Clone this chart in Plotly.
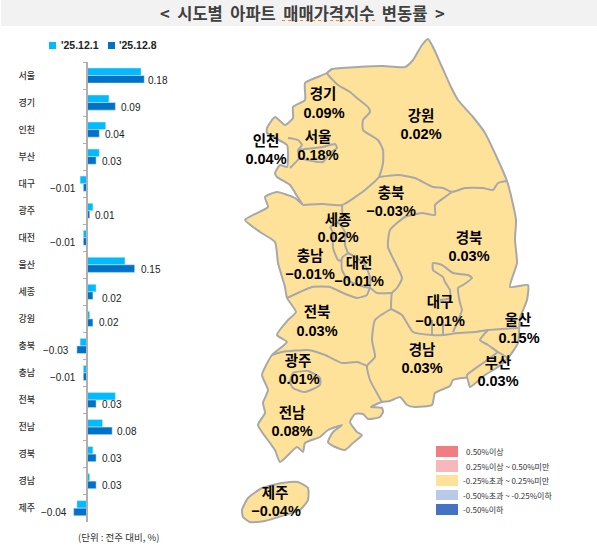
import plotly.graph_objects as go

W, H = 597, 554

# ---------- data ----------
regions = ["서울","경기","인천","부산","대구","광주","대전","울산","세종","강원","충북","충남","전북","전남","경북","경남","제주"]
dec_1 = [0.17,0.07,0.06,0.04,-0.02,0.02,-0.01,0.12,0.03,0.01,-0.02,-0.01,0.09,0.05,0.02,0.01,-0.03]
dec_8 = [0.18,0.09,0.04,0.03,-0.01,0.01,-0.01,0.15,0.02,0.02,-0.03,-0.01,0.03,0.08,0.03,0.03,-0.04]
series_names = ["'25.12.1", "'25.12.8"]
title_text = "&lt;\u00a0 시도별\u00a0 아파트\u00a0 매매가격지수\u00a0 변동률\u00a0 &gt;"
unit_text = "(단위 : 전주 대비, %)"
bin_labels = ["0.50%이상","0.25%이상 ~ 0.50%미만","-0.25%초과 ~ 0.25%미만","-0.50%초과 ~ -0.25%이하","-0.50%이하"]

# ---------- map geometry (map units) ----------
coast = [(305,83),(315,78),(327,73),(332,69),(358,67),(382,66),(405,67),(413,60),(422,45),(428,39),(433,47),(442,67),(450,85),
(458,100),(473,117),(485,133),(498,160),(507,181),(512,200),(516,220),(515,240),(517,263),(510,287),(528,285),(527,300),(520,318),
(518,343),(508,358),(498,367),(485,375),(470,387),(467,378),(453,380),(450,386),(435,393),(432,405),(415,407),(407,405),(400,397),
(390,401),(382,402),(371,407),(382,408),(383,412),(380,417),(368,419),(363,414),(355,414),(350,422),(357,432),(362,435),(353,443),
(345,450),(333,446),(328,442),(333,432),(342,425),(328,430),(320,437),(305,443),(303,452),(297,447),(280,462),(275,450),(270,443),
(258,425),(265,413),(263,403),(268,390),(262,375),(272,355),(287,342),(277,335),(288,320),(296,312),(287,298),(285,287),(278,263),
(275,242),(260,232),(245,220),(253,215),(268,207),(265,197),(277,192),(295,198),(303,205),(297,196),(290,185),(277,177),(275,173),
(280,165),(287,167),(288,157),(287,145),(275,138),(267,133),(267,128),(275,117),(285,125),(293,118),(293,107),(305,100),(305,83)]
jeju = [(242,510),(248,498),(262,488),(282,483),(298,482),(308,488),(308,500),(300,510),(285,515),(265,521),(250,522),(243,517),(242,510)]
borders = [
 [(332,69),(327,73),(338,85),(350,92),(357,98),(368,107),(370,112),(363,120),(363,130),(378,140),(383,150),(383,163),(379,177),(365,190),(342,205),(322,204),(303,205)],
 [(379,177),(398,175),(415,178),(433,187),(443,188),(452,192),(465,188),(483,188),(493,190),(498,183),(507,181)],
 [(452,192),(445,197),(435,205),(435,215),(422,213),(405,217),(390,230),(388,247),(402,278),(397,288),(392,293),(391,309)],
 [(287,298),(300,292),(312,287),(330,287),(343,293),(357,298),(367,295),(370,288),(377,293),(392,293)],
 [(348,253),(342,258),(342,270),(348,280),(358,285),(370,288)],
 [(348,253),(357,258),(365,265),(370,277),(370,288)],
 [(330,227),(333,233),(333,248),(338,260),(342,261)],
 [(342,205),(342,215),(338,222),(330,227)],
 [(338,222),(345,232),(345,245),(348,253)],
 [(391,309),(375,320),(372,340),(375,357),(367,366),(370,380),(382,402)],
 [(272,355),(282,352),(308,350),(325,355),(342,363),(357,362),(367,366)],
 [(293,373),(308,371),(320,378),(320,385),(305,392),(293,388),(290,382),(293,373)],
 [(391,309),(402,315),(413,332),(432,335),(443,335),(458,333),(475,332),(488,330),(518,328)],
 [(488,330),(480,340),(488,345),(498,352),(508,358)],
 [(498,352),(483,363),(467,375),(467,378)],
 [(453,332),(457,323),(462,310),(460,303),(458,288),(463,285),(472,278),(468,275),(453,273),(442,265),(433,263),(433,270),(443,277),(445,282),(450,290),(450,298),(440,300)],
 [(432,335),(432,320)],
 [(443,335),(443,320)],
 [(288,138),(298,140),(302,145),(298,150),(299,158),(290,168)],
 [(298,150),(305,149),(323,147),(335,144),(337,148),(330,153),(323,162),(307,160),(299,158)],
]

# ---------- layout helpers (positions only) ----------
label_xy = {"경기":(323,95,324,114),"인천":(266,142,266,160),"서울":(318,138,318,156),"강원":(421,117,421,135),
"충북":(391,194,391,212),"세종":(338,221,338,238),"충남":(310,257,310,275),"대전":(359,264,359,282),"경북":(469,239,469,257),
"대구":(440,303,440,322),"울산":(518,321,519,339),"경남":(422,351,422,369),"부산":(498,364,498,382),"전북":(317,313,317,332),
"광주":(298,362,299,380),"전남":(292,414,292,432),"제주":(275,494,276,512)}
label_gap = [2,4,4,4,2,3,2,4,7,4,3,2,4,3,4,4,2]
label_dy = [4.5,4.5,4.5,4.5,4.5,4.5,4.5,4.5,7,4,4.5,4.5,4.5,4.5,4.5,4.5,4.5]
bin_colors = ["#F07D82","#F7B8BC","#FFE299","#B9C9E8","#4472C4"]
bin_box = [(446,457),(460,472),(475,486),(490,500),(504,515)]
bin_text_x = [464,464,461,461,461]
swatch_x = [(49,56),(108,115)]
swatch_colors = ["#00BBFF","#0072C8"]
swatch_text_x = [59,117]

ZERO_PX, PX_PER_UNIT = 86.5, 321.0
LEFT_PX, RIGHT_PX = 40.0, 170.0
TOP_PX, BOT_PX = 62.0, 521.7

LAT = "Liberation Sans, Noto Sans CJK KR, sans-serif"
KR = "Noto Sans CJK KR, sans-serif"
LAND = "#FFE299"
EDGE = "#A8A8A8"

def fmt(v, pct=False):
    s = f"{abs(v):.2f}" + ("%" if pct else "")
    return ("\u2212" + s) if v < 0 else s

fig = go.Figure()

# map on full-canvas axes
for name, poly in (("본토", coast), ("제주도", jeju)):
    fig.add_trace(go.Scatter(x=[p[0] for p in poly], y=[p[1] for p in poly], mode="lines", fill="toself",
        fillcolor=LAND, line=dict(color=EDGE, width=2, shape="spline", smoothing=0.5), xaxis="x2", yaxis="y2",
        showlegend=False, hoverinfo="skip", name=name))
for b in borders:
    fig.add_trace(go.Scatter(x=[p[0] for p in b], y=[p[1] for p in b], mode="lines",
        line=dict(color=EDGE, width=2, shape="spline", smoothing=0.5), xaxis="x2", yaxis="y2",
        showlegend=False, hoverinfo="skip"))
names = list(label_xy)
fig.add_trace(go.Scatter(x=[label_xy[n][0] for n in names], y=[label_xy[n][1] for n in names], mode="text", text=names,
    textposition="middle center", textfont=dict(family=KR, size=14.5, color="#000", weight=700), xaxis="x2", yaxis="y2",
    showlegend=False, hoverinfo="skip"))
fig.add_trace(go.Scatter(x=[label_xy[n][2] for n in names], y=[label_xy[n][3] for n in names], mode="text",
    text=[fmt(dec_8[regions.index(n)], True) for n in names], textposition="middle center",
    textfont=dict(family=LAT, size=14.5, color="#000", weight=700), xaxis="x2", yaxis="y2", showlegend=False, hoverinfo="skip"))

# bars
fig.add_trace(go.Bar(y=regions, x=dec_1, orientation="h", name=series_names[0], marker=dict(color=swatch_colors[0]), xaxis="x", yaxis="y", showlegend=False))
fig.add_trace(go.Bar(y=regions, x=dec_8, orientation="h", name=series_names[1], marker=dict(color=swatch_colors[1]), xaxis="x", yaxis="y", showlegend=False))

ann = []
for r, v, g, d in zip(regions, dec_8, label_gap, label_dy):
    ann.append(dict(x=v, y=r, xref="x", yref="y", text=fmt(v), showarrow=False,
        xanchor="left" if v >= 0 else "right", xshift=g if v >= 0 else -g - 3, yshift=-d,
        font=dict(family=LAT, size=10, color="#222")))
ann.append(dict(x=118, y=537, xref="x2", yref="y2", text=unit_text, showarrow=False,
    font=dict(family=KR, size=9.5, color="#333")))
for t, tx, (y0, y1) in zip(bin_labels, bin_text_x, bin_box):
    ann.append(dict(x=tx, y=(y0 + y1) / 2, xref="x2", yref="y2", text=t, showarrow=False, xanchor="left",
        font=dict(family=KR, size=8, color="#333")))
for t, tx in zip(series_names, swatch_text_x):
    ann.append(dict(x=tx, y=45, xref="x2", yref="y2", text=t, showarrow=False, xanchor="left",
        font=dict(family=LAT, size=10.5, color="#222", weight=700)))
ann.append(dict(x=302, y=13, xref="x2", yref="y2", text=title_text, showarrow=False,
    font=dict(family=KR, size=16.5, color="#404040", weight=700)))

shapes = [dict(type="rect", xref="x2", yref="y2", x0=1, x1=597, y0=0, y1=26, fillcolor="#F2F2F2", line_width=0, layer="below"),
          dict(type="line", xref="x2", yref="y2", x0=282, x1=377, y0=20.5, y1=20.5, line=dict(color="#E88A1A", width=1, dash="dot"))]
for c, (y0, y1) in zip(bin_colors, bin_box):
    shapes.append(dict(type="rect", xref="x2", yref="y2", x0=436, x1=458, y0=y0, y1=y1, fillcolor=c, line_width=0))
for c, (x0, x1) in zip(swatch_colors, swatch_x):
    shapes.append(dict(type="rect", xref="x2", yref="y2", x0=x0, x1=x1, y0=42, y1=49, fillcolor=c, line_width=0))

fig.update_layout(
    width=W, height=H, margin=dict(l=0, r=0, t=0, b=0), paper_bgcolor="white", plot_bgcolor="rgba(0,0,0,0)",
    barmode="group", bargap=0.44, bargroupgap=0, showlegend=False,
    xaxis=dict(domain=[LEFT_PX / W, RIGHT_PX / W], range=[(LEFT_PX - ZERO_PX) / PX_PER_UNIT, (RIGHT_PX - ZERO_PX) / PX_PER_UNIT],
        visible=False, fixedrange=True),
    yaxis=dict(domain=[1 - BOT_PX / H, 1 - TOP_PX / H], type="category", autorange=False, range=[16.5, -0.5],
        anchor="free", position=ZERO_PX / W, side="left", showline=True, linecolor="#B0B0B0", linewidth=1.5,
        ticks="outside", ticklen=3, tickcolor="#B0B0B0", tickwidth=1, tickson="boundaries", showgrid=False, zeroline=False,
        ticklabelstandoff=49, tickfont=dict(family=KR, size=9, color="#333", weight=500)),
    xaxis2=dict(domain=[0, 1], range=[0, W], visible=False, anchor="y2", fixedrange=True),
    yaxis2=dict(domain=[0, 1], range=[H, 0], visible=False, anchor="x2", fixedrange=True),
    annotations=ann, shapes=shapes,
)

fig.write_html("out.html", config=dict(displayModeBar=False),
    post_script="document.body.style.margin='0';document.documentElement.style.overflow='hidden';")
